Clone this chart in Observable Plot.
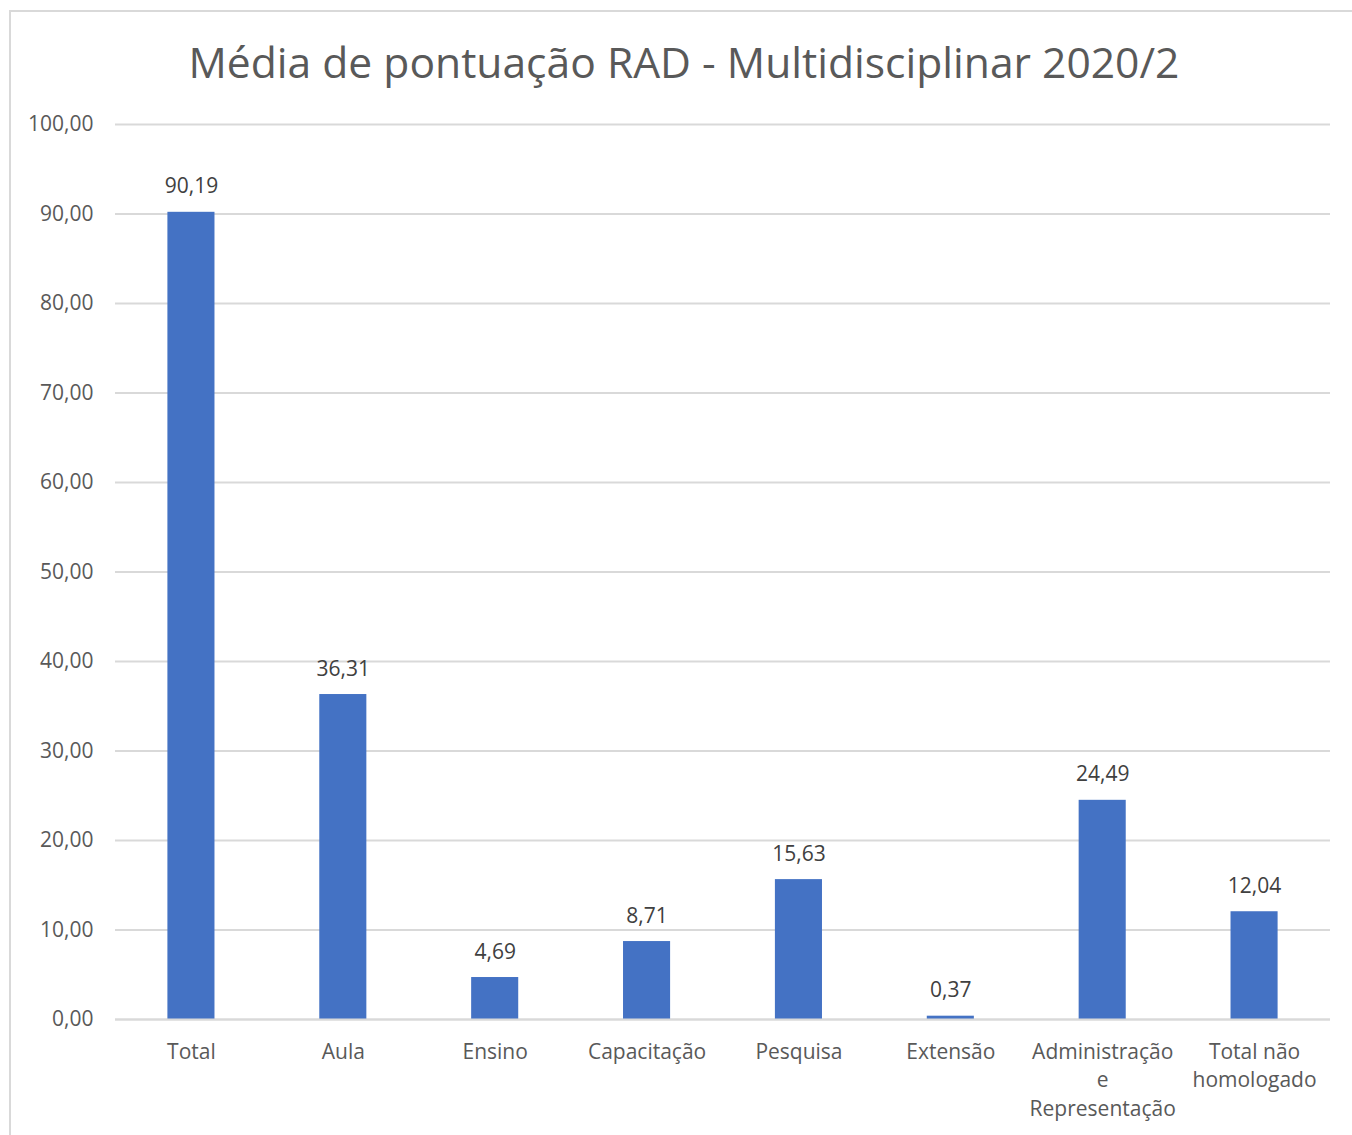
<!DOCTYPE html>
<html>
<head>
<meta charset="utf-8">
<script src="https://cdn.jsdelivr.net/npm/d3@7"></script>
<script src="https://cdn.jsdelivr.net/npm/@observablehq/plot@0.6"></script>
<style>
  html, body { margin: 0; padding: 0; background: #fff; overflow: hidden; }
  #wrap { position: relative; width: 1352px; height: 1135px; font-family: "Open Sans", sans-serif; }
  #frame { position: absolute; left: 9px; top: 10px; width: 1400px; height: 1200px; border: 2px solid #d9d9d9; box-sizing: border-box; pointer-events: none; }
  #title { height: 58px; padding-top: 37px; line-height: 48px; font-size: 42.6px; color: #595959; text-align: center; padding-left: 16px; white-space: nowrap; }
  svg { display: block; }
</style>
</head>
<body>
<div id="wrap">
  <div id="frame"></div>
  <div id="title">Média de pontuação RAD - Multidisciplinar 2020/2</div>
  <div id="chart"></div>
</div>
<script>
const categories = ["Total", "Aula", "Ensino", "Capacitação", "Pesquisa", "Extensão", "Administração\ne\nRepresentação", "Total não\nhomologado"];
const values = [90.19, 36.31, 4.69, 8.71, 15.63, 0.37, 24.49, 12.04];
const yTicks = [0, 10, 20, 30, 40, 50, 60, 70, 80, 90, 100];

const data = categories.map((c, i) => ({category: c, value: values[i]}));
const fmt = d => d.toFixed(2).replace(".", ",");

const chart = Plot.plot({
  width: 1352,
  height: 1040,
  marginLeft: 115,
  marginRight: 22,
  marginTop: 29,
  marginBottom: 116,
  style: {fontFamily: "'Open Sans', sans-serif", fontSize: "21px", color: "#595959", background: "transparent"},
  x: {domain: categories, paddingInner: 0.69, paddingOuter: 0.345, round: false, label: null},
  y: {domain: [0, 100], label: null},
  marks: [
    Plot.gridY(yTicks, {stroke: "#d9d9d9", strokeOpacity: 1, strokeWidth: 2}),
    Plot.barY(data, {x: "category", y: "value", fill: "#4472c4"}),
    Plot.ruleY([0], {stroke: "#d9d9d9", strokeWidth: 2}),
    Plot.text(data, {x: "category", y: "value", text: d => fmt(d.value), lineAnchor: "bottom", dy: -19, fill: "#404040", fontSize: 21}),
    Plot.axisY({ticks: yTicks, tickFormat: fmt, tickSize: 0, tickPadding: 22, label: null, fill: "#595959", fontSize: 21}),
    Plot.axisX({tickSize: 0, tickPadding: 19, label: null, fill: "#595959", fontSize: 21, lineHeight: 1.36})
  ]
});
document.getElementById("chart").appendChild(chart);
</script>
</body>
</html>
